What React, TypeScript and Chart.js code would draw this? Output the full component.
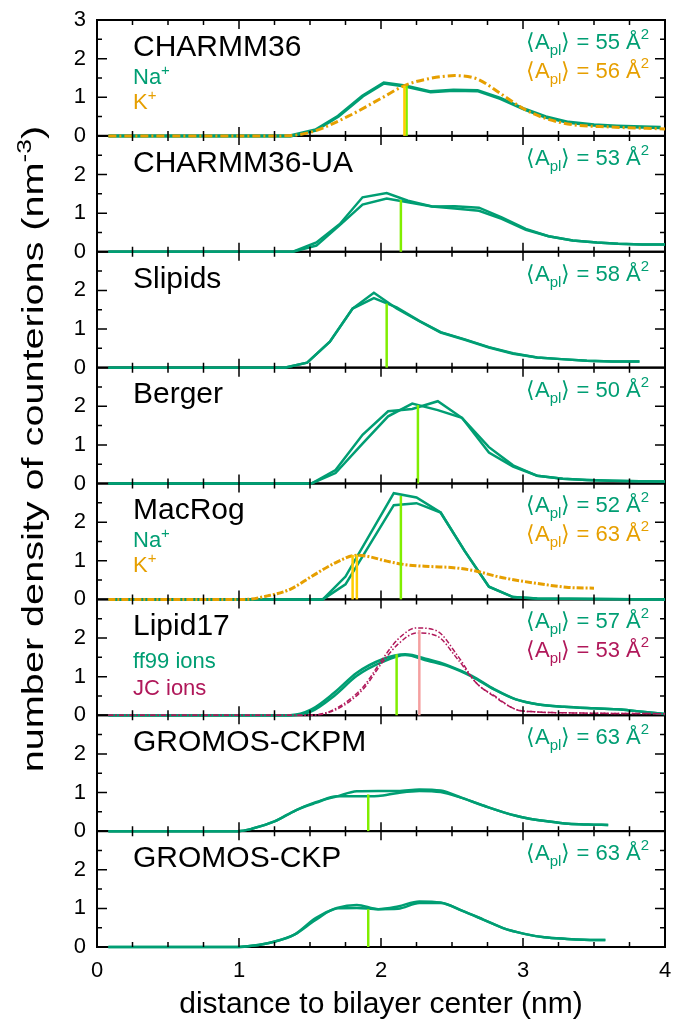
import React, { useEffect, useRef } from 'react';
import { Chart, registerables } from 'chart.js';

Chart.register(...registerables);

const FONT = "'Liberation Sans', Arial, Helvetica, sans-serif";
const GREEN = '#009e73';
const ORANGE = '#e69f00';
const LIME = '#80ee00';
const GOLD = '#ffcc00';
const PINK = '#f5a0a0';
const MAROON = '#b0185a';
const W = 673;
const H = 1027;

// ---------- text ----------
const panelTitles = ['CHARMM36', 'CHARMM36-UA', 'Slipids', 'Berger', 'MacRog', 'Lipid17', 'GROMOS-CKPM', 'GROMOS-CKP'];
const aplFirst = ['55', '53', '58', '50', '52', '57', '63', '63'];
const aplSecond = ['56', '', '', '', '63', '53', '', ''];
const xTitle = 'distance to bilayer center (nm)';
const yTitle = 'number density of counterions (nm';
const xTicks = [0, 1, 2, 3, 4];

// ---------- CHARMM36 ----------
const c36X = [0.08, 1.36, 1.54, 1.70, 1.87, 2.02, 2.17, 2.35, 2.51, 2.68, 2.84, 3.01, 3.16, 3.32, 3.50, 3.66, 3.84, 3.97];
const c36Na = [0, 0, 0.15, 0.51, 1.03, 1.37, 1.29, 1.14, 1.18, 1.17, 0.97, 0.69, 0.49, 0.35, 0.28, 0.25, 0.23, 0.22];
const c36KX = [0.08, 1.30, 1.51, 1.77, 2.01, 2.17, 2.35, 2.52, 2.68, 2.84, 3.01, 3.16, 3.35, 3.61, 4.0];
const c36K = [0, 0, 0.10, 0.51, 0.99, 1.31, 1.49, 1.56, 1.47, 1.10, 0.69, 0.45, 0.29, 0.23, 0.18];
// ---------- CHARMM36-UA ----------
const uaX = [0.08, 1.38, 1.545, 1.71, 1.87, 2.04, 2.19, 2.36, 2.52, 2.69, 2.85, 3.02, 3.18, 3.35, 3.52, 3.67, 3.84, 4.0];
const uaA = [0, 0, 0.24, 0.72, 1.41, 1.52, 1.32, 1.17, 1.18, 1.14, 0.89, 0.59, 0.40, 0.29, 0.24, 0.21, 0.19, 0.19];
const uaB = [0, 0, 0.16, 0.69, 1.22, 1.38, 1.28, 1.17, 1.12, 1.06, 0.85, 0.57, 0.40, 0.29, 0.24, 0.21, 0.19, 0.19];
// ---------- Slipids ----------
const slX = [0.08, 1.32, 1.48, 1.64, 1.80, 1.95, 2.11, 2.27, 2.42, 2.59, 2.76, 2.93, 3.10, 3.27, 3.45, 3.63, 3.82];
const slA = [0, 0, 0.13, 0.67, 1.53, 1.94, 1.53, 1.20, 0.91, 0.72, 0.52, 0.36, 0.26, 0.22, 0.18, 0.16, 0.16];
const slB = [0, 0, 0.13, 0.67, 1.53, 1.80, 1.56, 1.21, 0.92, 0.73, 0.53, 0.37, 0.26, 0.22, 0.18, 0.16, 0.16];
// ---------- Berger ----------
const bgX = [0.08, 1.51, 1.68, 1.87, 2.05, 2.22, 2.40, 2.57, 2.76, 2.93, 3.10, 3.28, 3.45, 3.63, 3.82, 4.0];
const bgA = [0, 0, 0.35, 1.26, 1.87, 1.93, 2.13, 1.70, 0.80, 0.44, 0.20, 0.12, 0.09, 0.07, 0.06, 0.05];
const bgB = [0, 0, 0.27, 1.03, 1.74, 2.07, 1.90, 1.70, 0.94, 0.47, 0.20, 0.12, 0.09, 0.07, 0.06, 0.05];
// ---------- MacRog ----------
const mrX = [0.08, 1.59, 1.75, 2.09, 2.25, 2.42, 2.59, 2.76, 2.93, 3.10, 4.0];
const mrA = [0, 0, 0.59, 2.75, 2.64, 2.25, 1.25, 0.33, 0.06, 0.02, 0];
const mrB = [0, 0, 0.39, 2.44, 2.49, 2.25, 1.25, 0.33, 0.06, 0.02, 0];
const mrKX = [0.08, 1.04, 1.20, 1.36, 1.51, 1.67, 1.83, 1.91, 2.04, 2.19, 2.35, 2.51, 2.66, 2.82, 2.98, 3.14, 3.32, 3.50];
const mrK = [0, 0, 0.09, 0.26, 0.59, 0.93, 1.14, 1.11, 0.99, 0.89, 0.85, 0.82, 0.74, 0.59, 0.48, 0.39, 0.31, 0.29];
// ---------- Lipid17 ----------
const lpX = [0.08, 1.36, 1.51, 1.67, 1.83, 2.01, 2.17, 2.33, 2.48, 2.64, 2.80, 2.95, 3.11, 3.29, 3.50, 3.69, 3.84, 4.0];
const lpA = [0, 0, 0.15, 0.58, 1.10, 1.45, 1.58, 1.45, 1.28, 1.02, 0.67, 0.41, 0.28, 0.22, 0.18, 0.15, 0.09, 0.03];
const lpB = [0, 0, 0.10, 0.50, 1.02, 1.38, 1.56, 1.41, 1.26, 1.00, 0.66, 0.41, 0.28, 0.22, 0.18, 0.15, 0.09, 0.03];
const jcX = [0.08, 1.49, 1.64, 1.78, 1.88, 2.01, 2.12, 2.25, 2.39, 2.54, 2.67, 2.80, 2.95, 3.08, 3.35, 4.0];
const jcA = [0, 0, 0.10, 0.41, 0.76, 1.45, 1.97, 2.26, 2.19, 1.54, 0.84, 0.50, 0.15, 0.09, 0.06, 0.04];
const jcB = [0, 0, 0.08, 0.36, 0.70, 1.37, 1.84, 2.13, 2.06, 1.45, 0.84, 0.48, 0.15, 0.09, 0.06, 0.04];
// ---------- GROMOS-CKPM ----------
const pmX = [0.08, 0.99, 1.09, 1.25, 1.40, 1.54, 1.69, 1.83, 1.98, 2.12, 2.27, 2.42, 2.57, 2.73, 2.87, 3.02, 3.18, 3.32, 3.46, 3.60];
const pmA = [0, 0, 0.06, 0.25, 0.54, 0.75, 0.90, 1.03, 1.04, 1.04, 1.08, 1.05, 0.86, 0.65, 0.48, 0.34, 0.25, 0.19, 0.17, 0.16];
const pmB = [0, 0, 0.06, 0.25, 0.54, 0.73, 0.90, 0.90, 0.91, 0.99, 1.04, 1.01, 0.86, 0.65, 0.48, 0.34, 0.25, 0.19, 0.17, 0.16];
// ---------- GROMOS-CKP ----------
const pX = [0.08, 1.0, 1.09, 1.24, 1.39, 1.54, 1.69, 1.83, 1.98, 2.12, 2.27, 2.42, 2.57, 2.72, 2.86, 3.01, 3.15, 3.31, 3.43, 3.58];
const pA = [0, 0, 0.03, 0.13, 0.32, 0.75, 1.01, 1.09, 0.98, 1.05, 1.18, 1.15, 0.94, 0.71, 0.49, 0.34, 0.25, 0.21, 0.19, 0.18];
const pB = [0, 0, 0.03, 0.13, 0.32, 0.70, 1.00, 1.01, 0.98, 0.99, 1.14, 1.14, 0.94, 0.71, 0.49, 0.34, 0.25, 0.21, 0.19, 0.18];

// ---------- mean (A_pl) markers ----------
const markerPanel = [0, 0, 1, 2, 3, 4, 4, 4, 5, 5, 6, 7];
const markerX = [2.165, 2.18, 2.14, 2.04, 2.26, 1.80, 1.83, 2.14, 2.11, 2.27, 1.91, 1.91];
const markerTop = [1.30, 1.29, 1.34, 1.66, 2.03, 1.15, 1.16, 2.68, 1.58, 2.21, 0.95, 0.98];
const markerKind = ['K', 'Na', 'Na', 'Na', 'Na', 'K', 'K', 'Na', 'Na', 'JC', 'Na', 'Na'];

const markerColor: Record<string, string> = { Na: LIME, K: GOLD, JC: PINK };

function pts(xs: number[], ys: number[]) {
  return xs.map((x, i) => ({ x, y: ys[i] }));
}

function line(xs: number[], ys: number[], panel: number, color: string, width: number, dash: number[] = [], smooth = false) {
  return {
    data: pts(xs, ys),
    yAxisID: 'y' + panel,
    borderColor: color,
    backgroundColor: color,
    borderWidth: width,
    borderDash: dash,
    pointRadius: 0,
    fill: false,
    tension: smooth ? 0.4 : 0,
    cubicInterpolationMode: smooth ? 'monotone' : 'default',
    clip: false,
    order: 2,
  };
}

type Part = { t: string; s: number; dy?: number; c?: string };

function drawRich(ctx: CanvasRenderingContext2D, parts: Part[], x: number, yMid: number, align: 'left' | 'right' | 'center', color: string, mainSize: number) {
  let total = 0;
  const widths = parts.map((p) => {
    ctx.font = `${p.s}px ${FONT}`;
    const w = ctx.measureText(p.t).width;
    total += w;
    return w;
  });
  let cx = align === 'left' ? x : align === 'right' ? x - total : x - total / 2;
  const base = yMid + mainSize * 0.36;
  ctx.textAlign = 'left';
  ctx.textBaseline = 'alphabetic';
  parts.forEach((p, i) => {
    ctx.font = `${p.s}px ${FONT}`;
    ctx.fillStyle = p.c || color;
    ctx.fillText(p.t, cx, base + (p.dy || 0));
    cx += widths[i];
  });
}

function aplParts(v: string): Part[] {
  return [
    { t: '\u27E8A', s: 22 },
    { t: 'pl', s: 15, dy: 6 },
    { t: '\u27E9 = ' + v + ' \u00C5', s: 22 },
    { t: '2', s: 15, dy: -10 },
  ];
}

const panelPlugin = {
  id: 'panelDecor',
  beforeDatasetsDraw(chart: any) {
    const { ctx, chartArea } = chart;
    ctx.save();
    ctx.strokeStyle = '#000';
    ctx.lineWidth = 2;
    for (let i = 0; i < 8; i++) {
      const s = chart.scales['y' + i];
      ctx.strokeRect(chartArea.left, s.top, chartArea.right - chartArea.left, s.bottom - s.top);
    }
    ctx.restore();
  },
  afterDatasetsDraw(chart: any) {
    const { ctx, chartArea } = chart;
    const xs = chart.scales.x;
    ctx.save();
    ctx.strokeStyle = '#000';
    ctx.lineWidth = 1.5;
    ctx.beginPath();
    for (let i = 0; i < 8; i++) {
      const s = chart.scales['y' + i];
      for (let v = 0.5; v < 3; v += 0.5) {
        const y = s.getPixelForValue(v);
        const len = Number.isInteger(v) ? 10 : 5;
        ctx.moveTo(chartArea.left, y);
        ctx.lineTo(chartArea.left + len, y);
        ctx.moveTo(chartArea.right, y);
        ctx.lineTo(chartArea.right - len, y);
      }
      for (let v = 0.25; v < 4; v += 0.25) {
        const x = xs.getPixelForValue(v);
        const len = Number.isInteger(v) ? 9 : 5;
        ctx.moveTo(x, s.top);
        ctx.lineTo(x, s.top + len);
        ctx.moveTo(x, s.bottom);
        ctx.lineTo(x, s.bottom - len);
      }
    }
    ctx.stroke();
    ctx.restore();
  },
  afterDraw(chart: any) {
    const { ctx, chartArea } = chart;
    ctx.save();
    for (let i = 0; i < 8; i++) {
      const s = chart.scales['y' + i];
      const top = s.top;
      drawRich(ctx, [{ t: panelTitles[i], s: 30 }], 133, top + 25, 'left', '#000', 30);
      const secondColor = i === 5 ? MAROON : ORANGE;
      drawRich(ctx, aplParts(aplFirst[i]), 649, top + 21, 'right', GREEN, 22);
      if (aplSecond[i]) drawRich(ctx, aplParts(aplSecond[i]), 649, top + 50, 'right', secondColor, 22);
      if (i === 0 || i === 4) {
        drawRich(ctx, [{ t: 'Na', s: 22 }, { t: '+', s: 15, dy: -9 }], 133, top + 56, 'left', GREEN, 22);
        drawRich(ctx, [{ t: 'K', s: 22 }, { t: '+', s: 15, dy: -9 }], 133, top + 81, 'left', ORANGE, 22);
      }
      if (i === 5) {
        drawRich(ctx, [{ t: 'ff99 ions', s: 22 }], 133, top + 61, 'left', GREEN, 22);
        drawRich(ctx, [{ t: 'JC ions', s: 22 }], 133, top + 88, 'left', MAROON, 22);
      }
    }
    ctx.restore();
    // y axis title (stretched along its baseline as in the reference)
    ctx.save();
    ctx.translate(32, 449);
    ctx.rotate(-Math.PI / 2);
    ctx.scale(1.32, 1);
    drawRich(ctx, [{ t: yTitle, s: 30 }, { t: '-3', s: 20, dy: -12 }, { t: ')', s: 30 }], 0, 0, 'center', '#000', 30);
    ctx.restore();
  },
};

export default function App() {
  const ref = useRef<HTMLCanvasElement>(null);
  useEffect(() => {
    const canvas = ref.current;
    if (!canvas) return;
    const datasets: any[] = [
      line(c36KX, c36K, 0, ORANGE, 3, [8, 3, 2, 3], true),
      line(c36X, c36Na, 0, GREEN, 3.5),
      line(uaX, uaA, 1, GREEN, 2.5),
      line(uaX, uaB, 1, GREEN, 2.5),
      line(slX, slA, 2, GREEN, 2.5),
      line(slX, slB, 2, GREEN, 2.5),
      line(bgX, bgA, 3, GREEN, 2.5),
      line(bgX, bgB, 3, GREEN, 2.5),
      line(mrKX, mrK, 4, ORANGE, 3, [7, 2, 2, 2], true),
      line(mrX, mrA, 4, GREEN, 2.5),
      line(mrX, mrB, 4, GREEN, 2.5),
      line(jcX, jcA, 5, MAROON, 1.5, [5, 2, 1.5, 2], true),
      line(jcX, jcB, 5, MAROON, 1.5, [5, 2, 1.5, 2], true),
      line(lpX, lpA, 5, GREEN, 2.5, [], true),
      line(lpX, lpB, 5, GREEN, 2.5, [], true),
      line(pmX, pmA, 6, GREEN, 2.5, [], true),
      line(pmX, pmB, 6, GREEN, 2.5, [], true),
      line(pX, pA, 7, GREEN, 2.5, [], true),
      line(pX, pB, 7, GREEN, 2.5, [], true),
    ];
    markerX.forEach((mx, k) => {
      const ds: any = line([mx, mx], [0, markerTop[k]], markerPanel[k], markerColor[markerKind[k]], 2.5);
      ds.order = 1;
      datasets.push(ds);
    });

    const tickFont = { family: FONT, size: 22 };
    const scales: any = {
      x: {
        type: 'linear',
        position: 'bottom',
        min: 0,
        max: 4,
        grid: { display: false, drawTicks: false },
        border: { display: false },
        ticks: {
          stepSize: 1,
          autoSkip: false,
          maxRotation: 0,
          padding: 11,
          color: '#000',
          font: tickFont,
          callback: (v: number) => (xTicks.includes(v) ? String(v) : ''),
        },
        title: {
          display: true,
          text: xTitle,
          color: '#000',
          font: { family: FONT, size: 30 },
          padding: { top: 0, bottom: 4 },
        },
        afterFit: (s: any) => {
          s.height = 80;
          s.paddingLeft = 0;
          s.paddingRight = 0;
        },
      },
    };
    for (let i = 0; i < 8; i++) {
      scales['y' + i] = {
        type: 'linear',
        position: 'left',
        stack: 'panels',
        stackWeight: 1,
        weight: 8 - i,
        min: 0,
        max: 3,
        grid: { display: false, drawTicks: false },
        border: { display: false },
        ticks: {
          stepSize: 1,
          autoSkip: false,
          padding: 11,
          color: '#000',
          font: tickFont,
          callback: (v: number) => (i > 0 && v === 3 ? '' : String(v)),
        },
        afterFit: (s: any) => {
          s.width = 97;
          s.paddingTop = 0;
          s.paddingBottom = 0;
        },
      };
    }

    const chart = new Chart(canvas, {
      type: 'line',
      data: { datasets },
      options: {
        responsive: false,
        animation: false,
        devicePixelRatio: 1,
        layout: { padding: { top: 20, right: 8, left: 0, bottom: 0 } },
        plugins: { legend: { display: false }, tooltip: { enabled: false }, title: { display: false } },
        scales,
      },
      plugins: [panelPlugin],
    } as any);
    return () => chart.destroy();
  }, []);

  return (
    <div style={{ position: 'fixed', left: 0, top: 0, width: W, height: H, background: '#fff' }}>
      <canvas ref={ref} width={W} height={H} style={{ display: 'block', width: W, height: H }} />
    </div>
  );
}
